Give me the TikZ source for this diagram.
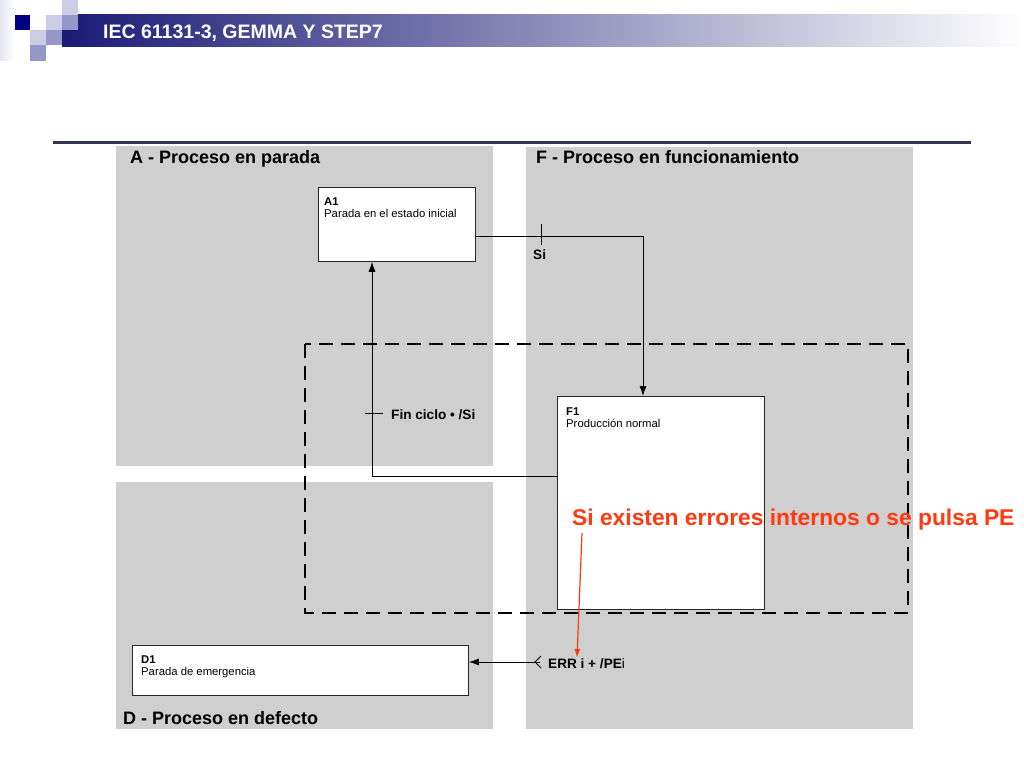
\documentclass[tikz,border=0pt]{standalone}
\usepackage{fontspec}
\setmainfont{Liberation Sans}
\usetikzlibrary{arrows.meta,positioning,calc}
\definecolor{gris}{RGB}{207,207,207}
\definecolor{marino}{RGB}{26,26,118}
\definecolor{navy}{RGB}{0,0,128}
\definecolor{lila}{RGB}{204,204,230}
\definecolor{lilamed}{RGB}{150,150,202}
\definecolor{regla}{RGB}{48,54,84}
\definecolor{rojo}{RGB}{255,58,16}

\begin{document}
\begin{tikzpicture}[x=1pt, y=-1pt,
    etapa/.style={draw=black!85, line width=0.8pt, fill=white, inner sep=0, anchor=north west},
    etapatxt/.style={font=\fontsize{11.3}{12}\selectfont, align=left, inner sep=0, anchor=north west},
    zona/.style={font=\bfseries\fontsize{18}{20}\selectfont, anchor=base west, inner sep=0},
    trans/.style={font=\bfseries\fontsize{13.6}{15}\selectfont, anchor=base west, inner sep=0},
    flecha/.style={line width=0.8pt, -{Latex[length=10pt,width=7pt]}}]
        \useasboundingbox (0,0) rectangle (1024,768);

        % Cabecera
        \shade[left color=lila!50, right color=white] (0,0) rectangle (15,60);
        \shade[left color=marino, middle color=marino!62, right color=white] (62,15) rectangle (1024,47);
        \fill[navy] (15,15) rectangle (30,30);
        \foreach \x/\y/\c in {62/0/lila, 46/15/lila, 30/30/lila, 62/15/lilamed, 46/30/lilamed, 30/45/lilamed} {
            \fill[\c] (\x,\y) rectangle ++(15.5,15.5);
        }
        \node[anchor=base west, inner sep=0, text=white, font=\bfseries\fontsize{19.5}{21}\selectfont] (cab) at (103,38) {IEC 61131-3, GEMMA Y STEP7};
        \draw[line width=3pt, regla] (53,142) -- (971,142);

        % Zonas
        \fill[gris] (116,146) rectangle (493,466);
        \fill[gris] (526,147) rectangle (913,729);
        \fill[gris] (116,482) rectangle (493,729);
        \node[zona] (zA) at (130,163.5) {A - Proceso en parada};
        \node[zona] (zF) at (536,163.5) {F - Proceso en funcionamiento};
        \node[zona] (zD) at (123,724.5) {D - Proceso en defecto};

        % Recuadro discontinuo
        \draw[line width=2.6pt, dash pattern=on 14pt off 8pt] (305,344) rectangle (908,613);

        % Etapas
        \node[etapa, minimum width=157pt, minimum height=74pt] (A1) at (318,187) {};
        \node[etapatxt, below right=11pt and 6pt of A1.north west] (A1txt) {\textbf{A1}\\Parada en el estado inicial};
        \node[etapa, minimum width=207pt, minimum height=213pt] (F1) at (557,396) {};
        \node[etapatxt, below right=12pt and 9pt of F1.north west] (F1txt) {\textbf{F1}\\Producción normal};
        \node[etapa, minimum width=336pt, minimum height=50pt] (D1) at (132,645) {};
        \node[etapatxt, below right=11pt and 9pt of D1.north west] (D1txt) {\textbf{D1}\\Parada de emergencia};

        % Transiciones
        \draw[flecha] ($(A1.north east)+(0,49)$) -| ($(F1.north west)+(86,0)$);
        \coordinate (tSi) at (541,236);
        \draw[line width=0.8pt] ($(tSi)+(0,-12)$) -- ($(tSi)+(0,9)$);
        \node[trans] (Si) at (533,259) {Si};

        \draw[flecha] ($(F1.north west)+(0,80)$) -| ($(A1.south west)+(54,0)$);
        \coordinate (tFin) at (372,413);
        \draw[line width=0.8pt] ($(tFin)+(-7,0)$) -- ($(tFin)+(11,0)$);
        \node[trans] (Fin) at (391,419) {Fin ciclo • /Si};

        \coordinate (err) at (540,662);
        \draw[flecha] (err) -- ($(D1.north east)+(0,17)$);
        \draw[line width=0.8pt] ($(err)+(1,-6)$) -- ($(err)+(-5,0)$) -- ($(err)+(1,6)$);
        \node[trans] (ERR) at (548,668) {ERR i + /PE\mdseries i};

        % Nota
        \node[anchor=base west, inner sep=0, text=rojo, font=\bfseries\fontsize{22.8}{25}\selectfont] (nota) at (572,525) {Si existen errores internos o se pulsa PE};
        \coordinate (notafin) at (577,658);
        \draw[rojo, line width=1.2pt, -{Latex[length=9pt,width=6pt]}] ($(nota.base west)+(10,8)$) -- (notafin);
    \end{tikzpicture}
\end{document}
